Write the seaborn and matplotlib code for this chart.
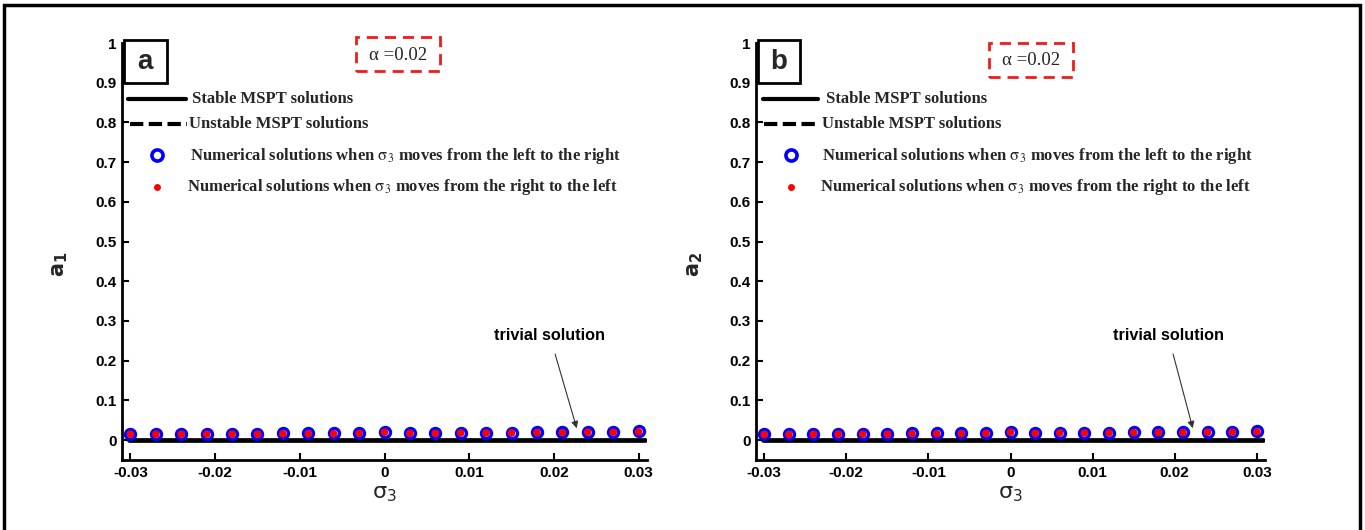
import numpy as np
import pandas as pd
import matplotlib
matplotlib.use("Agg")
import matplotlib.pyplot as plt
from matplotlib.patches import Rectangle
from matplotlib.lines import Line2D
import seaborn as sns

# ---------------- data ----------------
sigma3 = [-0.030, -0.027, -0.024, -0.021, -0.018, -0.015, -0.012, -0.009, -0.006, -0.003,
          0.000, 0.003, 0.006, 0.009, 0.012, 0.015, 0.018, 0.021, 0.024, 0.027, 0.030]
a1_left_to_right = [0.016, 0.016, 0.016, 0.016, 0.016, 0.016, 0.017, 0.017, 0.017, 0.018,
                    0.021, 0.018, 0.018, 0.019, 0.019, 0.019, 0.020, 0.020, 0.021, 0.021, 0.022]
a1_right_to_left = [0.015, 0.015, 0.015, 0.015, 0.015, 0.015, 0.016, 0.016, 0.016, 0.017,
                    0.020, 0.017, 0.017, 0.018, 0.018, 0.018, 0.019, 0.019, 0.020, 0.020, 0.021]
a2_left_to_right = [0.015, 0.015, 0.016, 0.016, 0.016, 0.016, 0.017, 0.017, 0.017, 0.018,
                    0.021, 0.018, 0.019, 0.019, 0.019, 0.020, 0.020, 0.020, 0.021, 0.021, 0.022]
a2_right_to_left = [0.014, 0.014, 0.015, 0.015, 0.015, 0.015, 0.016, 0.016, 0.016, 0.017,
                    0.020, 0.017, 0.018, 0.018, 0.018, 0.019, 0.019, 0.019, 0.020, 0.020, 0.021]
trivial_x = [-0.0302, 0.0308]
trivial_y = [0.0, 0.0]

x_ticks = [-0.03, -0.02, -0.01, 0, 0.01, 0.02, 0.03]
x_ticklabels = ["-0.03", "-0.02", "-0.01", "0", "0.01", "0.02", "0.03"]
y_ticks = [0, 0.1, 0.2, 0.3, 0.4, 0.5, 0.6, 0.7, 0.8, 0.9, 1]
y_ticklabels = ["0", "0.1", "0.2", "0.3", "0.4", "0.5", "0.6", "0.7", "0.8", "0.9", "1"]

panels = ["a", "b"]
y_labels = [r"$\mathbf{a}_\mathbf{1}$", r"$\mathbf{a}_\mathbf{2}$"]
x_label = r"$\mathrm{\sigma}_\mathrm{3}$"
alpha_text = "α =0.02"
legend_labels = ["Stable MSPT solutions", "Unstable MSPT solutions",
                 r"Numerical solutions when $\mathrm{\sigma}_\mathrm{3}$ moves from the left to the right",
                 r"Numerical solutions when $\mathrm{\sigma}_\mathrm{3}$ moves from the right to the left"]
annot_text = "trivial solution"

# ---------------- styling ----------------
sns.set_style("ticks")
plt.rcParams["font.family"] = ["Liberation Sans", "DejaVu Sans"]
plt.rcParams["mathtext.fontset"] = "stix"

W, H = 1365, 530
fig = plt.figure(figsize=(W / 100, H / 100), dpi=100)

ax_px = [(122, 647, 43, 460), (756, 1265, 43, 460)]
ydatas = [(a1_left_to_right, a1_right_to_left), (a2_left_to_right, a2_right_to_left)]
annot_xy = [(0.0227, 0.030), (0.0222, 0.030)]
annot_txt = [(0.0195, 0.264), (0.0192, 0.264)]

layout = [
    dict(box=(0.004, 0.904, 0.081, 0.103), lbl=(0.044, 0.954),
         abox=(0.445, 0.933, 0.161, 0.0815), atxt=(0.525, 0.971),
         line=(0.011, 0.121, 0.866), ltxt=(0.134, 0.866),
         dash=(0.015, 0.123, 0.806), dtxt=(0.128, 0.806),
         circ=(0.066, 0.731), ctxt=(0.129, 0.729),
         dot=(0.066, 0.655), rtxt=(0.123, 0.654)),
    dict(box=(0.004, 0.904, 0.083, 0.103), lbl=(0.045, 0.954),
         abox=(0.458, 0.918, 0.165, 0.0815), atxt=(0.540, 0.958),
         line=(0.014, 0.122, 0.866), ltxt=(0.138, 0.866),
         dash=(0.016, 0.126, 0.806), dtxt=(0.130, 0.806),
         circ=(0.069, 0.731), ctxt=(0.130, 0.729),
         dot=(0.069, 0.655), rtxt=(0.126, 0.654)),
]

serif = ["Liberation Serif", "DejaVu Serif"]
LEG_FS = 12

for i in range(2):
    l, r, t, b = ax_px[i]
    ax = fig.add_axes([l / W, 1 - b / H, (r - l) / W, (b - t) / H])
    df = pd.DataFrame({"sigma3": sigma3, "l2r": ydatas[i][0], "r2l": ydatas[i][1]})
    tdf = pd.DataFrame({"x": trivial_x, "y": trivial_y})

    sns.lineplot(data=tdf, x="x", y="y", ax=ax, color="black", linewidth=3.4, zorder=2)
    sns.scatterplot(data=df, x="sigma3", y="l2r", ax=ax, s=52, marker="o",
                    facecolor="white", edgecolor="#0000ff", linewidth=2.4, zorder=3)
    sns.scatterplot(data=df, x="sigma3", y="r2l", ax=ax, s=30, marker="o",
                    color="#ff0000", edgecolor="none", zorder=4)

    ax.set_xlim(-0.031, 0.031)
    ax.set_ylim(-0.05, 1.0)
    ax.set_xticks(x_ticks)
    ax.set_xticklabels(x_ticklabels, fontsize=11, fontweight="bold")
    ax.set_yticks(y_ticks)
    ax.set_yticklabels(y_ticklabels, fontsize=11, fontweight="bold")
    ax.tick_params(direction="in", length=5, width=1.5, pad=4, colors="black")
    for s in ["top", "right"]:
        ax.spines[s].set_visible(False)
    for s in ["left", "bottom"]:
        ax.spines[s].set_linewidth(2.0)
        ax.spines[s].set_color("black")

    ax.set_xlabel(x_label, fontsize=16, math_fontfamily="dejavusans")
    ax.xaxis.set_label_coords(0.5, -0.055)
    ax.set_ylabel(y_labels[i], fontsize=15, math_fontfamily="dejavusans")
    ax.yaxis.set_label_coords(-0.10, 0.47)

    L = layout[i]
    ax.add_patch(Rectangle((L["box"][0], L["box"][1]), L["box"][2], L["box"][3],
                           transform=ax.transAxes, fill=True, facecolor="white",
                           edgecolor="black", linewidth=2, clip_on=False, zorder=5))
    ax.text(L["lbl"][0], L["lbl"][1], panels[i], transform=ax.transAxes, ha="center",
            va="center", fontsize=20, fontweight="bold", zorder=6)
    ax.add_patch(Rectangle((L["abox"][0], L["abox"][1]), L["abox"][2], L["abox"][3],
                           transform=ax.transAxes, fill=False, edgecolor="#ee1c1c",
                           linewidth=2, linestyle=(0, (4, 2.5)), clip_on=False, zorder=5))
    ax.text(L["atxt"][0], L["atxt"][1], alpha_text, transform=ax.transAxes, ha="center",
            va="center", fontsize=13.5, family=serif)

    ax.add_line(Line2D([L["line"][0], L["line"][1]], [L["line"][2]] * 2, transform=ax.transAxes,
                       color="black", linewidth=3))
    ax.text(L["ltxt"][0], L["ltxt"][1], legend_labels[0], transform=ax.transAxes,
            va="center", ha="left", fontsize=LEG_FS, fontweight="bold", family=serif)
    ax.add_line(Line2D([L["dash"][0], L["dash"][1]], [L["dash"][2]] * 2, transform=ax.transAxes,
                       color="black", linewidth=3, linestyle=(0, (3.2, 1.3))))
    ax.text(L["dtxt"][0], L["dtxt"][1], legend_labels[1], transform=ax.transAxes,
            va="center", ha="left", fontsize=LEG_FS, fontweight="bold", family=serif)
    ax.add_line(Line2D([L["circ"][0]], [L["circ"][1]], transform=ax.transAxes, marker="o",
                       markersize=8, markerfacecolor="white", markeredgecolor="#0000ff",
                       markeredgewidth=2.6, linestyle="none"))
    ax.text(L["ctxt"][0], L["ctxt"][1], legend_labels[2], transform=ax.transAxes,
            va="center", ha="left", fontsize=LEG_FS, fontweight="bold", family=serif)
    ax.add_line(Line2D([L["dot"][0]], [L["dot"][1]], transform=ax.transAxes, marker="o",
                       markersize=5, markerfacecolor="#ff0000", markeredgecolor="none",
                       linestyle="none"))
    ax.text(L["rtxt"][0], L["rtxt"][1], legend_labels[3], transform=ax.transAxes,
            va="center", ha="left", fontsize=LEG_FS, fontweight="bold", family=serif)

    ax.annotate(annot_text, xy=annot_xy[i], xytext=annot_txt[i], ha="center", va="center",
                fontsize=11.7, fontweight="bold", color="black",
                arrowprops=dict(arrowstyle="-|>", color="#333333", lw=0.8,
                                shrinkA=6, shrinkB=0, mutation_scale=10))

fig.patches.append(Rectangle((4 / W, -0.05), (1360 - 4) / W, 1 - 5 / H + 0.05,
                             transform=fig.transFigure, fill=False, edgecolor="black",
                             linewidth=2.5))

fig.savefig("out.png", dpi=100, facecolor="white")
